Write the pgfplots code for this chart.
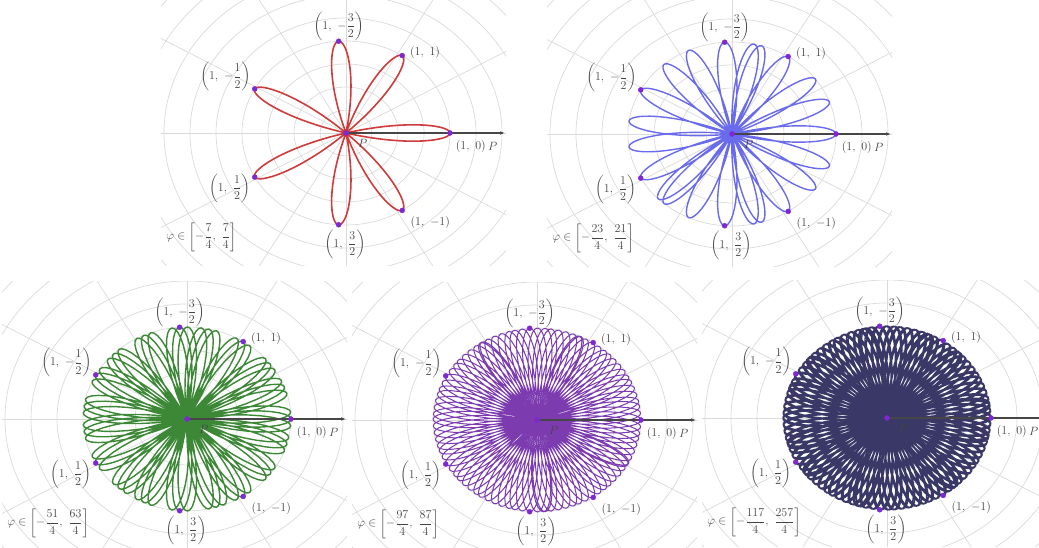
\documentclass[border=0pt]{standalone}
\usepackage{pgfplots}
\pgfplotsset{compat=1.18}
\usepackage{amsmath}
\usetikzlibrary{arrows.meta}

\definecolor{gridgray}{HTML}{DADADA}
\definecolor{axisgray}{HTML}{464646}
\definecolor{labgray}{HTML}{444444}
\definecolor{rosered}{HTML}{CF3A3A}
\definecolor{roseblue}{HTML}{6A6AEC}
\definecolor{rosegreen}{HTML}{3C8836}
\definecolor{rosepurple}{HTML}{7C3CB0}
\definecolor{rosenavy}{HTML}{3A3866}
\definecolor{dotviolet}{HTML}{7D28D2}

% light polar grid behind each panel (1 unit = 104pt across, 92pt up)
\newcommand\polargrid[4]{%
  \begin{scope}[shift={(#1pt,#2pt)}]
    \clip (-185pt,#3pt) rectangle (160pt,#4pt);
    \foreach \r in {0.25,0.5,...,2.6}
      \draw[gridgray, line width=0.7pt] (0,0) ellipse [x radius={\r*104pt}, y radius={\r*92pt}];
    \foreach \a in {0,30,...,330}
      \draw[gridgray, line width=0.7pt] (0,0) -- ({312*cos(\a)*1pt},{276*sin(\a)*1pt});
  \end{scope}}

\pgfplotsset{
  panel/.style={x=104pt, y=92pt, xmin=-1.78, xmax=1.54, hide axis,
    anchor=origin, clip=false},
}
\tikzset{lab/.style={text=labgray, font=\fontsize{11.5}{14}\selectfont, inner sep=0pt}}

% rose r = cos(2 pi phi), phi in radians
\newcommand\rose[5]{%
  \addplot[#1, line width=#2, domain=#3:#4, samples=#5, line join=round]
    ({cos(deg(2*pi*x))*cos(deg(x))}, {cos(deg(2*pi*x))*sin(deg(x))});}

\newcommand\rosemarks[1]{%
  \draw[axisgray, line width=1.1pt, -{Latex[length=5pt,width=3.5pt]}]
    (axis cs:0,0) -- (axis cs:1.53,0);
  \addplot[only marks, mark=*, mark size=2.5pt, color=dotviolet] coordinates {
    (1,0) (0.5403,0.8415) (0.5403,-0.8415) (-0.8776,0.4794)
    (-0.8776,-0.4794) (-0.0707,0.9975) (-0.0707,-0.9975) (0,0)};
  \node[lab] at (axis cs:-0.07,1.16) {$\left(1,\ -\dfrac{3}{2}\right)$};
  \node[lab] at (axis cs:0.76,0.87) {$(1,\ 1)$};
  \node[lab] at (axis cs:-1.16,0.61) {$\left(1,\ -\dfrac{1}{2}\right)$};
  \node[lab] at (axis cs:-1.12,-0.60) {$\left(1,\ \dfrac{1}{2}\right)$};
  \node[lab] at (axis cs:-0.01,-1.21) {$\left(1,\ \dfrac{3}{2}\right)$};
  \node[lab] at (axis cs:0.81,-0.97) {$(1,\ {-1})$};
  \node[lab] at (axis cs:1.20,-0.15) {$(1,\ 0)$};
  \node[lab] at (axis cs:1.41,-0.15) {$P$};
  \node[lab] at (axis cs:0.16,-0.11) {$P$};
  \node[lab, anchor=west] at (axis cs:-1.73,-1.13) {$\varphi\in\left[#1\right]$};
}

\begin{document}
\begin{tikzpicture}
\useasboundingbox (0,0) rectangle (1039pt,548pt);

\polargrid{346}{415}{-133}{133}
\polargrid{732}{414}{-133}{133}
\polargrid{187}{129}{-129}{137}
\polargrid{537}{128}{-129}{137}
\polargrid{887}{130}{-129}{137}

\begin{axis}[panel, at={(346pt,415pt)}, ymin=-1.44, ymax=1.44]
  \rose{rosered}{1.6pt}{-1.75}{1.75}{281}
  \rosemarks{-\dfrac{7}{4},\ \dfrac{7}{4}}
\end{axis}

\begin{axis}[panel, at={(732pt,414pt)}, ymin=-1.44, ymax=1.44]
  \rose{roseblue}{1.4pt}{-5.75}{5.25}{661}
  \rosemarks{-\dfrac{23}{4},\ \dfrac{21}{4}}
\end{axis}

\begin{axis}[panel, at={(187pt,129pt)}, ymin=-1.40, ymax=1.49]
  \rose{rosegreen}{1.4pt}{-12.75}{15.75}{1141}
  \rosemarks{-\dfrac{51}{4},\ \dfrac{63}{4}}
\end{axis}

\begin{axis}[panel, at={(537pt,128pt)}, ymin=-1.40, ymax=1.49]
  \rose{rosepurple}{1.0pt}{-24.25}{21.75}{1841}
  \rosemarks{-\dfrac{97}{4},\ \dfrac{87}{4}}
\end{axis}

\begin{axis}[panel, at={(887pt,130pt)}, ymin=-1.40, ymax=1.49]
  \rose{rosenavy}{1.3pt}{-29.25}{64.25}{3741}
  \rosemarks{-\dfrac{117}{4},\ \dfrac{257}{4}}
\end{axis}
\end{tikzpicture}
\end{document}
